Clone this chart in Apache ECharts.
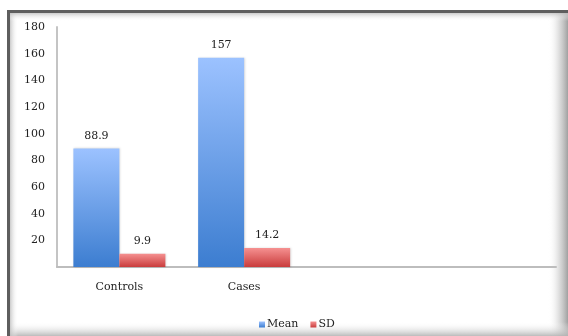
<!DOCTYPE html>
<html>
<head>
<meta charset="utf-8">
<script src="https://cdn.jsdelivr.net/npm/echarts@6/dist/echarts.min.js"></script>
<style>
  html, body { margin: 0; padding: 0; background: #fff; }
  #chart { width: 568px; height: 336px; }
</style>
</head>
<body>
<div id="chart"></div>
<script>
// Group means and standard deviations
const categories = ['Controls', 'Cases', '', ''];
const meanValues = [88.9, 157, null, null];
const sdValues = [9.9, 14.2, null, null];
const yTicks = { min: 0, max: 180, step: 20 };

const FONT = '"DejaVu Serif", "Liberation Serif", serif';

const chart = echarts.init(document.getElementById('chart'), null, { renderer: 'canvas' });

function vGrad(top, bottom) {
  return new echarts.graphic.LinearGradient(0, 0, 0, 1, [
    { offset: 0, color: top },
    { offset: 1, color: bottom }
  ]);
}

const labelStyle = {
  show: true,
  position: 'top',
  distance: 7,
  fontFamily: FONT,
  fontSize: 11,
  color: '#222'
};

chart.setOption({
  animation: false,
  backgroundColor: '#fff',
  graphic: [
    // picture frame: dark top/left edge and soft shadow on the right and bottom
    { type: 'rect', left: 548, top: 10, shape: { width: 20, height: 326 },
      style: { fill: new echarts.graphic.LinearGradient(0, 0, 1, 0, [
        { offset: 0, color: 'rgba(255,255,255,0)' },
        { offset: 0.55, color: 'rgba(200,200,200,0.6)' },
        { offset: 1, color: 'rgba(150,150,150,0.9)' }]) }, z: -1 },
    { type: 'rect', left: 7, top: 322, shape: { width: 561, height: 14 },
      style: { fill: new echarts.graphic.LinearGradient(0, 0, 0, 1, [
        { offset: 0, color: 'rgba(255,255,255,0)' },
        { offset: 1, color: 'rgba(180,180,180,0.9)' }]) }, z: -1 },
    { type: 'rect', left: 10, top: 13, shape: { width: 8, height: 323 },
      style: { fill: new echarts.graphic.LinearGradient(0, 0, 1, 0, [
        { offset: 0, color: 'rgba(190,190,190,0.8)' },
        { offset: 1, color: 'rgba(255,255,255,0)' }]) }, z: -1 },
    { type: 'rect', left: 10, top: 13, shape: { width: 558, height: 8 },
      style: { fill: new echarts.graphic.LinearGradient(0, 0, 0, 1, [
        { offset: 0, color: 'rgba(190,190,190,0.8)' },
        { offset: 1, color: 'rgba(255,255,255,0)' }]) }, z: -1 },
    { type: 'rect', left: 7, top: 10, shape: { width: 3, height: 326 },
      style: { fill: '#5e5e5e' }, z: 0 },
    { type: 'rect', left: 7, top: 10, shape: { width: 561, height: 3 },
      style: { fill: '#5e5e5e' }, z: 0 }
  ],
  grid: { left: 57, right: 12, top: 27, bottom: 69, containLabel: false },
  legend: {
    left: 254,
    top: 314,
    itemWidth: 6,
    itemHeight: 6,
    itemGap: 12,
    icon: 'rect',
    textStyle: { fontFamily: FONT, fontSize: 11, color: '#222', padding: [0, 0, 0, -3] },
    data: ['Mean', 'SD']
  },
  xAxis: {
    type: 'category',
    data: categories,
    axisLine: { show: true, lineStyle: { color: '#bdbdbd', width: 2 } },
    axisTick: { show: false },
    axisLabel: { fontFamily: FONT, fontSize: 11, color: '#222', margin: 15 },
    splitLine: { show: false }
  },
  yAxis: {
    type: 'value',
    min: yTicks.min,
    max: yTicks.max,
    interval: yTicks.step,
    axisLine: { show: true, lineStyle: { color: '#c4c4c4', width: 2 } },
    axisTick: { show: false },
    splitLine: { show: false },
    axisLabel: {
      fontFamily: FONT, fontSize: 11, color: '#222', margin: 12,
      formatter: v => (v === 0 ? '' : String(v))
    }
  },
  series: [
    {
      name: 'Mean',
      type: 'bar',
      data: meanValues,
      barWidth: 46,
      barGap: '0%',
      itemStyle: {
        color: vGrad('#9cc2ff', '#3c7dd0'),
        shadowColor: 'rgba(0,0,0,0.15)', shadowBlur: 2, shadowOffsetX: 1
      },
      label: labelStyle
    },
    {
      name: 'SD',
      type: 'bar',
      data: sdValues,
      barWidth: 46,
      barGap: '0%',
      itemStyle: {
        color: vGrad('#f59090', '#c93c3c'),
        shadowColor: 'rgba(0,0,0,0.15)', shadowBlur: 2, shadowOffsetX: 1
      },
      label: labelStyle
    }
  ]
});
</script>
</body>
</html>
